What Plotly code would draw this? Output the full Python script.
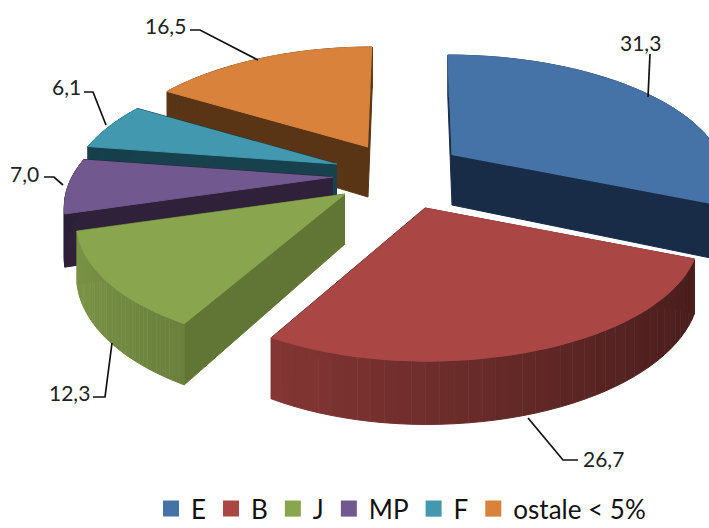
import numpy as np
import plotly.graph_objects as go

# --- data -------------------------------------------------------------
categories = ["E", "B", "J", "MP", "F", "ostale < 5%"]
values = [31.3, 26.7, 12.3, 7.0, 6.1, 16.5]
value_labels = ["31,3", "26,7", "12,3", "7,0", "6,1", "16,5"]

# --- style / layout ---------------------------------------------------
colors = ["#4572A7", "#AA4643", "#89A54E", "#71588F", "#4198AF", "#D9823B"]
cut_colors = ["#182C47", "#5E2522", "#617634", "#2E2139", "#17414C", "#5A3515"]
apex_x = [452, 425, 345, 333, 337, 368]
apex_y = [155, 208, 194, 177, 164, 147]
draw_order = [5, 4, 3, 2, 0, 1]
R_RIGHT, R_LEFT, KR, P, DEPTH, VANISH_X, VANISH_C = 268, 261, 121, 0.21, 50, 410, 0.10
label_pos = [(640, 42), (603, 458), (69, 392), (24, 173), (66, 86), (165, 25)]
leaders = [
    [(650, 54), (648, 97)],
    [(578, 460), (563, 460), (528, 418)],
    [(93, 397), (105, 397), (112, 343)],
    [(44, 177), (54, 177), (63, 185)],
    [(84, 92), (93, 92), (106, 125)],
    [(190, 30), (200, 30), (258, 60)],
]
FONT = "Lato"


def project(theta, ax, ay):
    u, v = np.sin(theta), -np.cos(theta)
    s = 1 / (1 - P * v)
    r = np.where(u > 0, R_RIGHT, R_LEFT)
    x = ax + u * r * s + VANISH_C * (VANISH_X - ax) * (-v)
    y = ay + v * KR * s
    return x, y, DEPTH * s, u


def shade(hex_color, f):
    r, g, b = (int(hex_color[i:i + 2], 16) for i in (1, 3, 5))
    return f"rgb({int(r * f)},{int(g * f)},{int(b * f)})"


def poly(xs, ys, color, name=None):
    return go.Scatter(x=list(xs), y=list(ys), mode="lines", fill="toself",
                      fillcolor=color, line=dict(color=color, width=1),
                      hoverinfo="skip" if name is None else "text",
                      text=name, showlegend=False)


fig = go.Figure()
total = sum(values)
edges = np.concatenate([[0], np.cumsum(values)]) / total * 2 * np.pi

for i in draw_order:
    ax, ay = apex_x[i], apex_y[i]
    th = np.linspace(edges[i], edges[i + 1], 41)
    x, y, d, u = project(th, ax, ay)
    apex_d = DEPTH
    # radial cut faces
    for k in (-1, 0):
        fig.add_trace(poly([ax, x[k], x[k], ax],
                           [ay, y[k], y[k] + d[k], ay + apex_d],
                           cut_colors[i]))
    # outer wall, shaded by direction
    back_wall = categories[i] in ("MP", "F", "ostale < 5%")
    for j in range(len(th) - 1):
        col = cut_colors[i] if back_wall else shade(
            colors[i], float(np.clip(0.66 - 0.25 * u[j], 0.35, 0.9)))
        fig.add_trace(poly([x[j], x[j + 1], x[j + 1], x[j]],
                           [y[j], y[j + 1], y[j + 1] + d[j + 1], y[j] + d[j]],
                           col))
    # top face
    fig.add_trace(poly(np.r_[ax, x], np.r_[ay, y], colors[i],
                       name=f"{categories[i]}: {value_labels[i]}"))

# legend entries
for name, c in zip(categories, colors):
    fig.add_trace(go.Scatter(x=[-100], y=[-100], mode="markers", name=name,
                             marker=dict(symbol="square", size=16, color=c)))

shapes = []
for pts in leaders:
    path = "M " + " L ".join(f"{px},{py}" for px, py in pts)
    shapes.append(dict(type="path", path=path, xref="x", yref="y",
                       line=dict(color="#111111", width=1.7)))
annotations = [dict(x=p[0], y=p[1], text=t, showarrow=False, xref="x", yref="y",
                    font=dict(family=FONT, size=21, color="#222222"))
               for p, t in zip(label_pos, value_labels)]

fig.update_layout(
    width=709, height=528, autosize=False,
    margin=dict(l=0, r=0, t=0, b=0, autoexpand=False),
    paper_bgcolor="white", plot_bgcolor="white",
    xaxis=dict(range=[0, 709], visible=False, fixedrange=True),
    yaxis=dict(range=[528, 0], visible=False, fixedrange=True),
    shapes=shapes, annotations=annotations,
    showlegend=True,
    legend=dict(orientation="h", x=0.213, y=-0.008, xanchor="left", yanchor="bottom",
                font=dict(family=FONT, size=26, color="#111111"),
                itemsizing="trace", itemwidth=30, tracegroupgap=0,
                bgcolor="rgba(0,0,0,0)"),
)
fig.write_html("out.html", config={"displayModeBar": False},
               post_script="document.body.style.margin='0';document.documentElement.style.overflow='hidden';")
